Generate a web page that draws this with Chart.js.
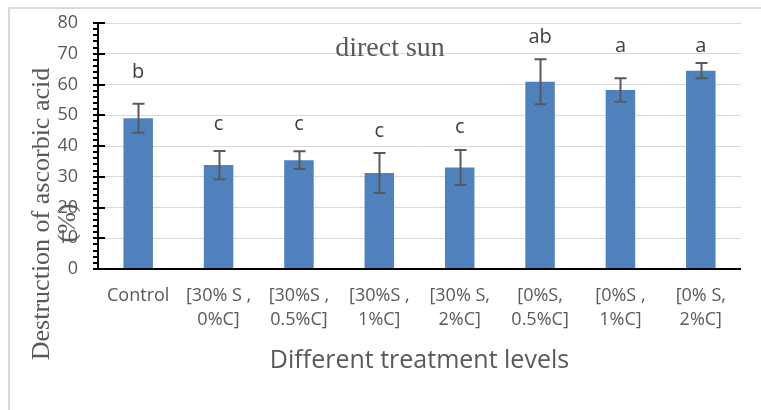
<!DOCTYPE html>
<html><head><meta charset="utf-8">
<script src="https://cdn.jsdelivr.net/npm/chart.js@4/dist/chart.umd.min.js"></script>
<style>html,body{margin:0;padding:0;background:#fff;overflow:hidden}</style>
</head><body>
<canvas id="c" width="761" height="410" style="display:block;width:761px;height:410px"></canvas>
<script>
const categories = [["Control"],["[30% S ,","0%C]"],["[30%S ,","0.5%C]"],["[30%S ,","1%C]"],["[30% S,","2%C]"],["[0%S,","0.5%C]"],["[0%S ,","1%C]"],["[0% S,","2%C]"]];
const means = [49.0, 33.8, 35.4, 31.2, 33.0, 60.9, 58.2, 64.5];
const errors = [4.7, 4.6, 2.9, 6.5, 5.7, 7.3, 3.8, 2.5];
const letters = ["b","c","c","c","c","ab","a","a"];
const letterLevels = [64.1, 47.2, 47.2, 44.9, 46.2, 75.4, 72.5, 72.5];
const yTickValues = [0,10,20,30,40,50,60,70,80];
const chartTitle = "direct sun";
const xTitle = "Different treatment levels";
const yTitle = ["Destruction of ascorbic acid", "(%)"];

const TEXT = '#595959';
const SANS = '"Open Sans", "Noto Sans", sans-serif';
const SERIF = '"Liberation Serif", "DejaVu Serif", serif';

const overlay = {
  id: 'overlay',
  beforeDraw(chart) {
    const ctx = chart.ctx;
    ctx.save();
    ctx.fillStyle = '#fff';
    ctx.fillRect(0, 0, chart.width, chart.height);
    ctx.strokeStyle = '#d9d9d9';
    ctx.lineWidth = 2;
    ctx.strokeRect(9, 8, 900, 600);
    ctx.restore();
  },
  afterDatasetsDraw(chart) {
    const {ctx, chartArea: a, scales: {x, y}} = chart;
    ctx.save();
    // error bars
    ctx.strokeStyle = '#595959';
    ctx.lineWidth = 2;
    means.forEach((m, i) => {
      const px = Math.round(x.getPixelForValue(i)) + 0.5;
      const t = y.getPixelForValue(m + errors[i]);
      const b = y.getPixelForValue(m - errors[i]);
      ctx.beginPath();
      ctx.moveTo(px, t); ctx.lineTo(px, b);
      ctx.moveTo(px - 6, t); ctx.lineTo(px + 6, t);
      ctx.moveTo(px - 6, b); ctx.lineTo(px + 6, b);
      ctx.stroke();
    });
    // axes
    ctx.strokeStyle = '#000';
    ctx.lineWidth = 2;
    const y0 = y.getPixelForValue(0);
    ctx.beginPath();
    ctx.moveTo(a.left - 5, y0); ctx.lineTo(a.right, y0);
    ctx.moveTo(a.left, y.getPixelForValue(80) - 1); ctx.lineTo(a.left, y0 + 1);
    ctx.stroke();
    for (let v = 0; v <= 80; v += 2) {
      const py = Math.round(y.getPixelForValue(v));
      ctx.beginPath();
      if (v % 10 === 0) { ctx.moveTo(a.left - 5, py); ctx.lineTo(a.left + 7, py); }
      else { ctx.moveTo(a.left - 5, py); ctx.lineTo(a.left, py); }
      ctx.stroke();
    }
    // significance letters
    ctx.fillStyle = '#404040';
    ctx.font = '20px ' + SANS;
    ctx.textAlign = 'center';
    ctx.textBaseline = 'middle';
    letters.forEach((l, i) => {
      ctx.fillText(l, x.getPixelForValue(i), y.getPixelForValue(letterLevels[i]));
    });
    // chart title inside plot
    ctx.fillStyle = TEXT;
    ctx.font = '28px ' + SERIF;
    ctx.textBaseline = 'alphabetic';
    ctx.fillText(chartTitle, 390, 56);
    // x title
    ctx.font = '25px ' + SANS;
    ctx.textBaseline = 'middle';
    ctx.fillText(xTitle, (a.left + a.right) / 2, 361);
    // y title
    ctx.font = '26px ' + SERIF;
    ctx.translate(42, 214);
    ctx.rotate(-Math.PI / 2);
    ctx.fillText(yTitle[0], 0, 0);
    ctx.rotate(Math.PI / 2);
    ctx.translate(26, 9);
    ctx.rotate(-Math.PI / 2);
    ctx.fillText(yTitle[1], 0, 0);
    ctx.restore();
  }
};

new Chart(document.getElementById('c'), {
  type: 'bar',
  data: {
    labels: categories,
    datasets: [{
      data: means,
      backgroundColor: '#4f81bd',
      borderWidth: 0,
      categoryPercentage: 1,
      barPercentage: 0.367
    }]
  },
  options: {
    responsive: false,
    animation: false,
    events: [],
    layout: { padding: { left: 0, top: 23, right: 20, bottom: 0 } },
    plugins: { legend: { display: false }, tooltip: { enabled: false }, title: { display: false } },
    scales: {
      x: {
        grid: { display: false, drawTicks: false },
        border: { display: false },
        ticks: { color: TEXT, font: { family: SANS, size: 18, lineHeight: 1.333 }, padding: 15, maxRotation: 0, autoSkip: false },
        afterFit(s) { s.height = 141; s.paddingLeft = 0; s.paddingRight = 0; }
      },
      y: {
        min: 0, max: 80,
        afterBuildTicks(s) { s.ticks = yTickValues.map(v => ({ value: v })); },
        grid: { color: '#d9d9d9', lineWidth: 1, drawTicks: false },
        border: { display: false },
        ticks: { color: TEXT, font: { family: SANS, size: 18 }, padding: 20 },
        afterFit(s) { s.width = 98; s.paddingTop = 0; s.paddingBottom = 0; }
      }
    }
  },
  plugins: [overlay]
});
</script>
</body></html>
